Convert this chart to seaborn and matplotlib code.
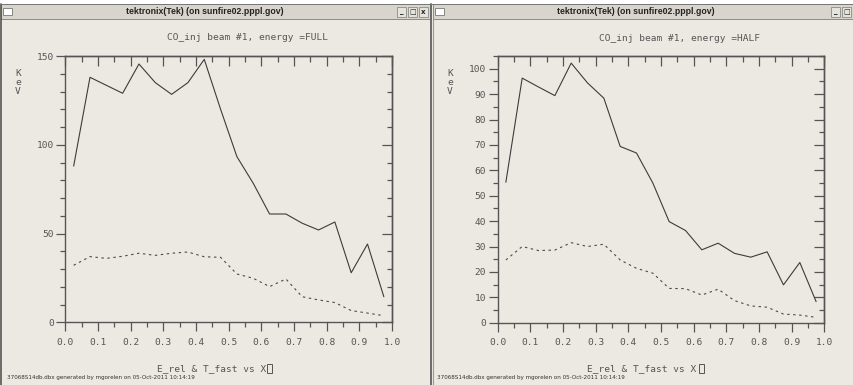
import numpy as np
import pandas as pd
import matplotlib
matplotlib.use("Agg")
import matplotlib.pyplot as plt
import seaborn as sns
from matplotlib.patches import Rectangle
from matplotlib.ticker import MultipleLocator, FormatStrFormatter

# ---------------- data ----------------
x_rel = [0.025, 0.075, 0.125, 0.175, 0.225, 0.275, 0.325, 0.375, 0.425, 0.475,
         0.525, 0.575, 0.625, 0.675, 0.725, 0.775, 0.825, 0.875, 0.925, 0.975]
full_e_rel = [88.0, 138.0, 133.5, 129.0, 145.5, 135.0, 128.4, 135.0, 148.1, 120.0,
              93.3, 78.3, 61.0, 61.0, 55.8, 52.0, 56.5, 27.9, 44.1, 14.4]
full_t_fast = [32.1, 37.0, 36.0, 37.2, 38.9, 37.7, 38.9, 39.6, 36.9, 36.6,
               27.2, 24.8, 20.1, 24.4, 14.4, 12.6, 11.1, 6.6, 5.2, 3.7]
half_e_rel = [55.3, 96.3, 92.8, 89.4, 102.2, 94.4, 88.4, 69.4, 66.8, 55.0,
              39.8, 36.3, 28.7, 31.3, 27.3, 25.8, 27.9, 14.9, 23.7, 8.3]
half_t_fast = [24.7, 30.0, 28.4, 28.6, 31.5, 30.0, 30.9, 24.7, 21.4, 19.5,
               13.5, 13.4, 10.9, 13.2, 8.7, 6.6, 6.1, 3.4, 3.0, 2.1]

x_ticks = [0.0, 0.1, 0.2, 0.3, 0.4, 0.5, 0.6, 0.7, 0.8, 0.9, 1.0]
full_y_ticks = [0, 50, 100, 150]
half_y_ticks = [0, 10, 20, 30, 40, 50, 60, 70, 80, 90, 100]

window_title = "tektronix(Tek) (on sunfire02.pppl.gov)"
plot_titles = ["CO_inj beam #1, energy =FULL", "CO_inj beam #1, energy =HALF"]
x_label = "E_rel & T_fast vs X"
y_label = "K\ne\nV"
footer = "37068S14db.dbx generated by mgorelen on 05-Oct-2011 10:14:19"

# ---------------- style ----------------
sns.set_theme(style="white")
BG = "#ECE9E3"
MONO = "DejaVu Sans Mono"
plt.rcParams["font.family"] = ["DejaVu Sans"]

W, H = 854, 385
fig = plt.figure(figsize=(W / 100, H / 100), dpi=100, facecolor=BG)

# overlay for window chrome, pixel coordinates
bg = fig.add_axes([0, 0, 1, 1])
bg.set_xlim(0, W)
bg.set_ylim(H, 0)
bg.axis("off")
bg.set_zorder(0)

bg.add_patch(Rectangle((0, 0), W, 3.5, fc="white", ec="none"))
for (x0, w) in [(1, 430), (433, 421)]:
    bg.add_patch(Rectangle((x0, 4), w, 15, fc="#D9D5CD", ec="#8E8A84", lw=0.7))
    bg.add_patch(Rectangle((x0 + 2.5, 8), 9, 7, fc="white", ec="#777777", lw=0.6))
bg.plot([0.6, 0.6], [4, H], color="#555555", lw=1.2)
bg.plot([431.5, 431.5], [4, H], color="#6a6a6a", lw=1.4)
bg.plot([433.2, 433.2], [19, H], color="#9a9a9a", lw=0.8)
bg.plot([0, W], [3.5, 3.5], color="#777777", lw=0.7)

# title bar buttons
for bx, glyph in [(397, "_"), (408, "\u25a1"), (419, "x"), (831, "_"), (842, "\u25a1")]:
    bg.add_patch(Rectangle((bx, 7), 9, 9.5, fc="#E6E3DD", ec="#8a8a8a", lw=0.6))
    bg.text(bx + 4.5, 11.8, glyph, ha="center", va="center", fontsize=5,
            fontweight="bold", color="#222222")

for cx in [205, 636]:
    bg.text(cx, 11.8, window_title, ha="center", va="center", fontsize=6.3,
            fontweight="bold", family="Liberation Sans", color="#222222")

# footers
for fx in [7, 437]:
    bg.text(fx, 378, footer, ha="left", va="center", fontsize=4.1, color="#333333")

# y label and x labels
for kx in [18, 450]:
    bg.text(kx, 82.5, y_label, ha="center", va="center", fontsize=6.8,
            family=MONO, color="#555555", linespacing=1.05)
for lx, box_x in [(157, 267.5), (587, 699.5)]:
    bg.text(lx, 368.5, x_label, ha="left", va="center", fontsize=6.8,
            family=MONO, color="#555555")
    bg.add_patch(Rectangle((box_x, 364), 5, 9, fc="none", ec="#555555", lw=0.7))


def px_axes(left, right, top, bottom):
    return [left / W, (H - bottom) / H, (right - left) / W, (bottom - top) / H]


panels = [
    dict(rect=px_axes(65.5, 392.0, 56.0, 322.3), solid=full_e_rel, dashed=full_t_fast,
         ymax=150, minor=10, yt=full_y_ticks, title=plot_titles[0], title_cx=248),
    dict(rect=px_axes(497.7, 824.3, 56.0, 322.7), solid=half_e_rel, dashed=half_t_fast,
         ymax=105, minor=5, yt=half_y_ticks, title=plot_titles[1], title_cx=680),
]

for p in panels:
    ax = fig.add_axes(p["rect"])
    ax.set_zorder(2)
    ax.set_facecolor(BG)
    df = pd.DataFrame({"X": x_rel, "E_rel": p["solid"], "T_fast": p["dashed"]})
    sns.lineplot(data=df, x="X", y="E_rel", ax=ax, color="#3c3c3c", lw=0.8)
    sns.lineplot(data=df, x="X", y="T_fast", ax=ax, color="#4a4a4a", lw=0.8,
                 linestyle=(0, (2.2, 3.2)))
    ax.set_xlabel("")
    ax.set_ylabel("")
    ax.set_xlim(0, 1)
    ax.set_ylim(0, p["ymax"])
    ax.set_xticks(x_ticks)
    ax.xaxis.set_major_formatter(FormatStrFormatter("%.1f"))
    ax.xaxis.set_minor_locator(MultipleLocator(0.05))
    ax.set_yticks(p["yt"])
    ax.yaxis.set_minor_locator(MultipleLocator(p["minor"]))
    for s in ax.spines.values():
        s.set_color("#555555")
        s.set_linewidth(1.0)
    ax.tick_params(axis="both", which="major", direction="out", length=6.5,
                   width=0.9, color="#555555", labelcolor="#555555",
                   labelsize=6.8, bottom=True, left=True, top=False, right=False)
    ax.tick_params(axis="both", which="minor", direction="out", length=3.8,
                   width=0.9, color="#555555", bottom=True, left=True,
                   top=False, right=False)
    ax.tick_params(axis="x", which="major", pad=4.5)
    ax.tick_params(axis="y", which="major", pad=2)
    for lab in ax.get_xticklabels() + ax.get_yticklabels():
        lab.set_family(MONO)

    # inward ticks on top and right
    top = ax.secondary_xaxis("top")
    top.set_xticks(x_ticks)
    top.xaxis.set_minor_locator(MultipleLocator(0.05))
    top.tick_params(which="major", direction="in", length=7, width=0.9,
                    color="#555555", labeltop=False)
    top.tick_params(which="minor", direction="in", length=4, width=0.9,
                    color="#555555")
    top.spines["top"].set_color("#555555")
    top.spines["top"].set_linewidth(1.0)
    right = ax.secondary_yaxis("right")
    right.set_yticks(p["yt"])
    right.yaxis.set_minor_locator(MultipleLocator(p["minor"]))
    right.tick_params(which="major", direction="in", length=7, width=0.9,
                      color="#555555", labelright=False)
    right.tick_params(which="minor", direction="in", length=3.5, width=0.9,
                      color="#555555")
    right.spines["right"].set_color("#555555")
    right.spines["right"].set_linewidth(1.0)

    # plot title in axes coordinates
    l, b, w, h = p["rect"]
    tx = (p["title_cx"] / W - l) / w
    ty = ((H - 38) / H - b) / h
    ax.text(tx, ty, p["title"], transform=ax.transAxes, ha="center", va="center",
            fontsize=6.8, family=MONO, color="#555555")

fig.savefig("out.png", dpi=100, facecolor=BG)
